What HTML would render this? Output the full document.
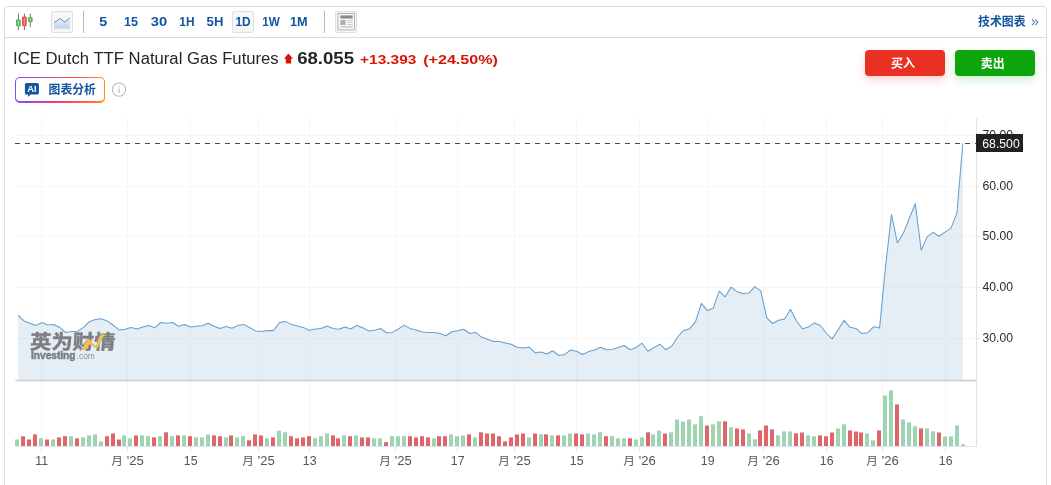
<!DOCTYPE html>
<html><head><meta charset="utf-8"><title>ICE Dutch TTF Natural Gas Futures</title>
<style>
html,body{margin:0;padding:0;background:#fff;}
body{width:1051px;height:485px;overflow:hidden;position:relative;font-family:"Liberation Sans",sans-serif;}
.frame{position:absolute;left:4px;top:6px;width:1041px;height:520px;border:1px solid #dbdbdc;border-radius:4px;box-sizing:content-box;}
.tbline{position:absolute;left:5px;top:37px;width:1041px;height:1px;background:#dbdbdc;}
.tf{position:absolute;top:11px;height:21px;width:28px;line-height:22px;text-align:center;font-size:12px;font-weight:bold;color:#1256a0;letter-spacing:0.2px;transform:scaleX(1.08);}
.btnbox{position:absolute;top:11px;height:20px;border:1px solid #dedfe1;background:#f7f7f8;border-radius:2px;}
.sep{position:absolute;top:11px;width:1px;height:22px;background:#b9b9ba;}
.title{position:absolute;left:14px;top:49px;font-size:16px;line-height:19px;color:#232526;white-space:nowrap;letter-spacing:0.3px;}
.px{position:absolute;left:297.2px;top:48.6px;font-size:16px;line-height:19px;font-weight:bold;color:#232526;white-space:nowrap;letter-spacing:0.4px;transform:scaleX(1.115);transform-origin:0 50%;}
.chg{position:absolute;top:49.5px;font-size:13.5px;line-height:19px;font-weight:bold;color:#d91400;white-space:nowrap;transform:scaleX(1.105);transform-origin:0 50%;}
.btn{position:absolute;top:50px;width:80px;height:26px;border-radius:4px;}
.buy{left:865px;background:#e83123;box-shadow:0 4px 9px rgba(232,49,35,0.22);}
.sell{left:955px;background:#0ea40b;box-shadow:0 4px 9px rgba(14,164,11,0.20);}
.aibtn{position:absolute;left:15px;top:77px;width:90px;height:25.6px;border-radius:5px;background:linear-gradient(90deg,#7a4cff 0%,#ff3d6e 55%,#ff8a1a 100%);}
.aibtn i{position:absolute;left:1.3px;top:1.3px;right:1.3px;bottom:1.3px;background:#fff;border-radius:3.8px;}
svg{position:absolute;left:0;top:0;}
svg text{font-family:"Liberation Sans","Noto Sans CJK SC",sans-serif;}
</style></head>
<body>
<div id="root" style="position:absolute;left:0;top:0;width:1051px;height:485px;will-change:transform;">
<div class="frame"></div>
<div class="tbline"></div>

<div class="btnbox" style="left:51px;width:20px;"></div>
<div class="sep" style="left:83px;"></div>
<div class="btnbox" style="left:232px;width:20px;"></div>
<div class="sep" style="left:324px;"></div>
<div class="btnbox" style="left:335px;width:20px;"></div>


<div class="btn buy"></div>
<div class="btn sell"></div>
<div class="aibtn"><i></i></div>

<svg width="1051" height="485" viewBox="0 0 1051 485">
<defs>
<linearGradient id="lg" x1="0" y1="0" x2="0" y2="1"><stop offset="0" stop-color="#eef2fb"/><stop offset="1" stop-color="#bfd0ec"/></linearGradient>
<linearGradient id="gg" x1="0" y1="0" x2="1" y2="0"><stop offset="0" stop-color="#2e9e2e"/><stop offset="0.5" stop-color="#a6e0a6"/><stop offset="1" stop-color="#2e9e2e"/></linearGradient>
<linearGradient id="rg" x1="0" y1="0" x2="1" y2="0"><stop offset="0" stop-color="#d62a2a"/><stop offset="0.5" stop-color="#ff8f8f"/><stop offset="1" stop-color="#d62a2a"/></linearGradient>
</defs>
<!-- header text -->
<text x="99.20" y="26.16" font-size="12" font-weight="bold" fill="#1256a0" textLength="8.0" lengthAdjust="spacingAndGlyphs">5</text>
<text x="124.00" y="26.16" font-size="12" font-weight="bold" fill="#1256a0" textLength="14.0" lengthAdjust="spacingAndGlyphs">15</text>
<text x="150.80" y="26.16" font-size="12" font-weight="bold" fill="#1256a0" textLength="16.4" lengthAdjust="spacingAndGlyphs">30</text>
<text x="179.30" y="26.16" font-size="12" font-weight="bold" fill="#1256a0" textLength="15.2" lengthAdjust="spacingAndGlyphs">1H</text>
<text x="206.60" y="26.16" font-size="12" font-weight="bold" fill="#1256a0" textLength="16.8" lengthAdjust="spacingAndGlyphs">5H</text>
<text x="235.40" y="26.16" font-size="12" font-weight="bold" fill="#1256a0" textLength="15.2" lengthAdjust="spacingAndGlyphs">1D</text>
<text x="262.20" y="26.16" font-size="12" font-weight="bold" fill="#1256a0" textLength="17.6" lengthAdjust="spacingAndGlyphs">1W</text>
<text x="290.00" y="26.16" font-size="12" font-weight="bold" fill="#1256a0" textLength="17.6" lengthAdjust="spacingAndGlyphs">1M</text>
<text x="13.1" y="64.04" font-size="16" fill="#232526" textLength="265.6" lengthAdjust="spacingAndGlyphs">ICE Dutch TTF Natural Gas Futures</text>
<text x="297.19" y="63.64" font-size="16" font-weight="bold" fill="#232526" textLength="56.8" lengthAdjust="spacingAndGlyphs">68.055</text>
<text x="360.09" y="63.68" font-size="13.5" font-weight="bold" fill="#d91400" textLength="56.34" lengthAdjust="spacingAndGlyphs">+13.393</text>
<text x="423.19" y="63.68" font-size="13.5" font-weight="bold" fill="#d91400" textLength="74.73" lengthAdjust="spacingAndGlyphs">(+24.50%)</text>
<!-- candlestick icon -->
<g>
<line x1="18.4" y1="13.6" x2="18.4" y2="30" stroke="#444" stroke-width="0.75"/>
<rect x="16.5" y="19.8" width="3.8" height="6.1" rx="0.5" fill="url(#gg)" stroke="#2e9e2e" stroke-width="0.6"/>
<line x1="24.4" y1="13.6" x2="24.4" y2="30" stroke="#444" stroke-width="0.75"/>
<rect x="22.5" y="16.9" width="3.8" height="8.9" rx="0.5" fill="url(#rg)" stroke="#d62a2a" stroke-width="0.6"/>
<line x1="30.3" y1="13.6" x2="30.3" y2="26.9" stroke="#444" stroke-width="0.75"/>
<rect x="28.4" y="17.4" width="3.8" height="4.5" rx="0.5" fill="url(#gg)" stroke="#2e9e2e" stroke-width="0.6"/>
</g>
<!-- line icon -->
<path d="M54,22.6 L60.1,18.6 L64.7,22.1 L69.8,18 L69.8,28.7 L54,28.7 Z" fill="url(#lg)"/>
<polyline points="54,22.6 60.1,18.6 64.7,22.1 69.8,18" fill="none" stroke="#4d7fb8" stroke-width="0.9"/>
<!-- layout icon -->
<rect x="337.9" y="13.5" width="16.6" height="16.4" fill="#fafafa" stroke="#a8a8a8" stroke-width="0.9"/>
<rect x="340.3" y="15.4" width="12.4" height="3.2" fill="#8c8c8c"/>
<rect x="340.3" y="20" width="5.3" height="5" fill="#b0b0b0"/>
<rect x="347" y="20" width="5.7" height="0.9" fill="#c4c4c4"/>
<rect x="347" y="22.1" width="5.7" height="0.9" fill="#c4c4c4"/>
<rect x="347" y="24.2" width="5.7" height="0.9" fill="#c4c4c4"/>
<rect x="340.3" y="26.2" width="12.4" height="1.4" fill="#c4c4c4"/>
<!-- tech chart link -->
<text x="978" y="25.86" font-size="12" font-weight="bold" fill="#1256a0" textLength="47.6" lengthAdjust="spacingAndGlyphs">技术图表</text>
<path d="M1032,19.4 L1034.6,22.3 L1032,25.2 M1035.2,19.4 L1037.8,22.3 L1035.2,25.2" fill="none" stroke="#4f7fb8" stroke-width="1.05"/>
<!-- up arrow -->
<path d="M288.45,53.5 L293,58.8 L291.1,58.8 L291.1,63.4 L285.8,63.4 L285.8,58.8 L283.9,58.8 Z" fill="#d91400"/>
<!-- AI icon -->
<path d="M26.6,82.9 H37.2 Q38.9,82.9 38.9,84.6 V92.9 Q38.9,94.6 37.2,94.6 H30.6 L28,97 V94.6 H26.6 Q24.9,94.6 24.9,92.9 V84.6 Q24.9,82.9 26.6,82.9 Z" fill="#1256a0"/>
<text x="27.2" y="92" font-size="8.6" font-weight="bold" fill="#fff" textLength="9.4" lengthAdjust="spacingAndGlyphs">AI</text>
<text x="48.6" y="93.86" font-size="12" font-weight="bold" fill="#1256a0" textLength="47.3" lengthAdjust="spacingAndGlyphs">图表分析</text>
<!-- info icon -->
<circle cx="119" cy="89.6" r="6.6" fill="#fff" stroke="#b7babe" stroke-width="1.1"/>
<rect x="118.45" y="88.4" width="1.1" height="4.6" fill="#b0b3b7"/>
<rect x="118.45" y="86" width="1.1" height="1.2" fill="#b0b3b7"/>
<!-- buy / sell text -->
<text x="891" y="68.16" font-size="12" font-weight="bold" fill="#fff" textLength="24" lengthAdjust="spacingAndGlyphs">买入</text>
<text x="980.8" y="68.16" font-size="12" font-weight="bold" fill="#fff" textLength="24" lengthAdjust="spacingAndGlyphs">卖出</text>
<line x1="41.5" y1="118.0" x2="41.5" y2="446.0" stroke="#f6f6f7" stroke-width="1"/>
<line x1="127.5" y1="118.0" x2="127.5" y2="446.0" stroke="#f6f6f7" stroke-width="1"/>
<line x1="190.5" y1="118.0" x2="190.5" y2="446.0" stroke="#f6f6f7" stroke-width="1"/>
<line x1="258.5" y1="118.0" x2="258.5" y2="446.0" stroke="#f6f6f7" stroke-width="1"/>
<line x1="309.5" y1="118.0" x2="309.5" y2="446.0" stroke="#f6f6f7" stroke-width="1"/>
<line x1="395.5" y1="118.0" x2="395.5" y2="446.0" stroke="#f6f6f7" stroke-width="1"/>
<line x1="457.5" y1="118.0" x2="457.5" y2="446.0" stroke="#f6f6f7" stroke-width="1"/>
<line x1="514.5" y1="118.0" x2="514.5" y2="446.0" stroke="#f6f6f7" stroke-width="1"/>
<line x1="576.5" y1="118.0" x2="576.5" y2="446.0" stroke="#f6f6f7" stroke-width="1"/>
<line x1="639.5" y1="118.0" x2="639.5" y2="446.0" stroke="#f6f6f7" stroke-width="1"/>
<line x1="707.5" y1="118.0" x2="707.5" y2="446.0" stroke="#f6f6f7" stroke-width="1"/>
<line x1="763.5" y1="118.0" x2="763.5" y2="446.0" stroke="#f6f6f7" stroke-width="1"/>
<line x1="826.5" y1="118.0" x2="826.5" y2="446.0" stroke="#f6f6f7" stroke-width="1"/>
<line x1="882.5" y1="118.0" x2="882.5" y2="446.0" stroke="#f6f6f7" stroke-width="1"/>
<line x1="945.5" y1="118.0" x2="945.5" y2="446.0" stroke="#f6f6f7" stroke-width="1"/>
<line x1="15.5" y1="135.5" x2="976.5" y2="135.5" stroke="#f6f6f7" stroke-width="1"/>
<line x1="15.5" y1="186.5" x2="976.5" y2="186.5" stroke="#f6f6f7" stroke-width="1"/>
<line x1="15.5" y1="236.5" x2="976.5" y2="236.5" stroke="#f6f6f7" stroke-width="1"/>
<line x1="15.5" y1="287.5" x2="976.5" y2="287.5" stroke="#f6f6f7" stroke-width="1"/>
<line x1="15.5" y1="338.5" x2="976.5" y2="338.5" stroke="#f6f6f7" stroke-width="1"/>
<path d="M18.1,380.5 L18.1,315.5 L24.0,320.9 L30.0,323.3 L35.9,325.4 L41.9,322.5 L47.8,324.9 L53.7,324.6 L59.7,327.4 L65.6,332.5 L71.6,331.4 L77.5,331.2 L83.5,327.4 L89.4,321.7 L95.3,319.6 L101.3,318.8 L107.2,320.9 L113.2,325.2 L119.1,329.9 L125.0,329.3 L131.0,327.4 L136.9,329.0 L142.9,327.0 L148.8,325.4 L154.8,327.8 L160.7,322.5 L166.6,323.3 L172.6,322.5 L178.5,326.2 L184.5,324.6 L190.4,327.0 L196.3,326.2 L202.3,325.7 L208.2,323.3 L214.2,326.2 L220.1,328.5 L226.1,326.5 L232.0,328.3 L237.9,325.4 L243.9,324.4 L249.8,327.7 L255.8,330.9 L261.7,331.4 L267.6,330.6 L273.6,330.6 L279.5,322.5 L285.5,321.4 L291.4,324.4 L297.4,326.1 L303.3,327.4 L309.2,330.3 L315.2,329.0 L321.1,328.6 L327.1,326.1 L333.0,328.6 L338.9,329.3 L344.9,326.9 L350.8,329.0 L356.8,325.4 L362.7,327.8 L368.6,330.9 L374.6,330.3 L380.5,328.5 L386.5,332.7 L392.4,332.4 L398.4,329.0 L404.3,325.1 L410.2,328.6 L416.2,330.1 L422.1,331.9 L428.1,332.5 L434.0,332.4 L439.9,333.5 L445.9,335.8 L451.8,331.7 L457.8,330.7 L463.7,329.3 L469.7,333.5 L475.6,332.4 L481.5,337.1 L487.5,339.3 L493.4,341.4 L499.4,341.6 L505.3,343.0 L511.2,344.3 L517.2,347.2 L523.1,347.9 L529.1,347.2 L535.0,352.7 L541.0,351.9 L546.9,354.0 L552.8,350.8 L558.8,355.5 L564.7,354.4 L570.7,350.0 L576.6,351.3 L582.5,354.5 L588.5,351.6 L594.4,350.0 L600.4,347.2 L606.3,349.7 L612.2,349.5 L618.2,347.6 L624.1,345.5 L630.1,349.7 L636.0,347.6 L642.0,343.2 L647.9,351.3 L653.8,347.6 L659.8,344.2 L665.7,349.7 L671.7,346.2 L677.6,337.0 L683.5,330.5 L689.5,328.9 L695.4,321.9 L701.4,303.3 L707.3,310.6 L713.3,308.2 L719.2,291.2 L725.1,296.8 L731.1,287.1 L737.0,291.7 L743.0,293.6 L748.9,293.1 L754.8,286.6 L760.8,290.9 L766.7,317.9 L772.7,323.5 L778.6,320.3 L784.6,319.0 L790.5,309.3 L796.4,320.8 L802.4,328.7 L808.3,327.1 L814.3,322.9 L820.2,325.5 L826.1,333.0 L832.1,338.9 L838.0,330.0 L844.0,320.3 L849.9,327.2 L855.9,328.4 L861.8,333.6 L867.7,332.7 L873.7,326.8 L879.6,327.9 L885.6,266.0 L891.5,214.6 L897.4,243.0 L903.4,233.1 L909.3,218.3 L915.3,203.7 L921.2,250.1 L927.1,236.9 L933.1,232.3 L939.0,236.2 L945.0,232.1 L950.9,228.4 L956.9,213.1 L962.8,143.5 L962.8,380.5 Z" fill="#e6eef5"/>
<clipPath id="ac"><path d="M18.1,380.5 L18.1,315.5 L24.0,320.9 L30.0,323.3 L35.9,325.4 L41.9,322.5 L47.8,324.9 L53.7,324.6 L59.7,327.4 L65.6,332.5 L71.6,331.4 L77.5,331.2 L83.5,327.4 L89.4,321.7 L95.3,319.6 L101.3,318.8 L107.2,320.9 L113.2,325.2 L119.1,329.9 L125.0,329.3 L131.0,327.4 L136.9,329.0 L142.9,327.0 L148.8,325.4 L154.8,327.8 L160.7,322.5 L166.6,323.3 L172.6,322.5 L178.5,326.2 L184.5,324.6 L190.4,327.0 L196.3,326.2 L202.3,325.7 L208.2,323.3 L214.2,326.2 L220.1,328.5 L226.1,326.5 L232.0,328.3 L237.9,325.4 L243.9,324.4 L249.8,327.7 L255.8,330.9 L261.7,331.4 L267.6,330.6 L273.6,330.6 L279.5,322.5 L285.5,321.4 L291.4,324.4 L297.4,326.1 L303.3,327.4 L309.2,330.3 L315.2,329.0 L321.1,328.6 L327.1,326.1 L333.0,328.6 L338.9,329.3 L344.9,326.9 L350.8,329.0 L356.8,325.4 L362.7,327.8 L368.6,330.9 L374.6,330.3 L380.5,328.5 L386.5,332.7 L392.4,332.4 L398.4,329.0 L404.3,325.1 L410.2,328.6 L416.2,330.1 L422.1,331.9 L428.1,332.5 L434.0,332.4 L439.9,333.5 L445.9,335.8 L451.8,331.7 L457.8,330.7 L463.7,329.3 L469.7,333.5 L475.6,332.4 L481.5,337.1 L487.5,339.3 L493.4,341.4 L499.4,341.6 L505.3,343.0 L511.2,344.3 L517.2,347.2 L523.1,347.9 L529.1,347.2 L535.0,352.7 L541.0,351.9 L546.9,354.0 L552.8,350.8 L558.8,355.5 L564.7,354.4 L570.7,350.0 L576.6,351.3 L582.5,354.5 L588.5,351.6 L594.4,350.0 L600.4,347.2 L606.3,349.7 L612.2,349.5 L618.2,347.6 L624.1,345.5 L630.1,349.7 L636.0,347.6 L642.0,343.2 L647.9,351.3 L653.8,347.6 L659.8,344.2 L665.7,349.7 L671.7,346.2 L677.6,337.0 L683.5,330.5 L689.5,328.9 L695.4,321.9 L701.4,303.3 L707.3,310.6 L713.3,308.2 L719.2,291.2 L725.1,296.8 L731.1,287.1 L737.0,291.7 L743.0,293.6 L748.9,293.1 L754.8,286.6 L760.8,290.9 L766.7,317.9 L772.7,323.5 L778.6,320.3 L784.6,319.0 L790.5,309.3 L796.4,320.8 L802.4,328.7 L808.3,327.1 L814.3,322.9 L820.2,325.5 L826.1,333.0 L832.1,338.9 L838.0,330.0 L844.0,320.3 L849.9,327.2 L855.9,328.4 L861.8,333.6 L867.7,332.7 L873.7,326.8 L879.6,327.9 L885.6,266.0 L891.5,214.6 L897.4,243.0 L903.4,233.1 L909.3,218.3 L915.3,203.7 L921.2,250.1 L927.1,236.9 L933.1,232.3 L939.0,236.2 L945.0,232.1 L950.9,228.4 L956.9,213.1 L962.8,143.5 L962.8,380.5 Z"/></clipPath><g clip-path="url(#ac)">
<line x1="41.5" y1="118.0" x2="41.5" y2="380.5" stroke="#e0e8ef" stroke-width="1"/>
<line x1="127.5" y1="118.0" x2="127.5" y2="380.5" stroke="#e0e8ef" stroke-width="1"/>
<line x1="190.5" y1="118.0" x2="190.5" y2="380.5" stroke="#e0e8ef" stroke-width="1"/>
<line x1="258.5" y1="118.0" x2="258.5" y2="380.5" stroke="#e0e8ef" stroke-width="1"/>
<line x1="309.5" y1="118.0" x2="309.5" y2="380.5" stroke="#e0e8ef" stroke-width="1"/>
<line x1="395.5" y1="118.0" x2="395.5" y2="380.5" stroke="#e0e8ef" stroke-width="1"/>
<line x1="457.5" y1="118.0" x2="457.5" y2="380.5" stroke="#e0e8ef" stroke-width="1"/>
<line x1="514.5" y1="118.0" x2="514.5" y2="380.5" stroke="#e0e8ef" stroke-width="1"/>
<line x1="576.5" y1="118.0" x2="576.5" y2="380.5" stroke="#e0e8ef" stroke-width="1"/>
<line x1="639.5" y1="118.0" x2="639.5" y2="380.5" stroke="#e0e8ef" stroke-width="1"/>
<line x1="707.5" y1="118.0" x2="707.5" y2="380.5" stroke="#e0e8ef" stroke-width="1"/>
<line x1="763.5" y1="118.0" x2="763.5" y2="380.5" stroke="#e0e8ef" stroke-width="1"/>
<line x1="826.5" y1="118.0" x2="826.5" y2="380.5" stroke="#e0e8ef" stroke-width="1"/>
<line x1="882.5" y1="118.0" x2="882.5" y2="380.5" stroke="#e0e8ef" stroke-width="1"/>
<line x1="945.5" y1="118.0" x2="945.5" y2="380.5" stroke="#e0e8ef" stroke-width="1"/>
<line x1="15.5" y1="135.5" x2="962.8" y2="135.5" stroke="#e0e8ef" stroke-width="1"/>
<line x1="15.5" y1="186.5" x2="962.8" y2="186.5" stroke="#e0e8ef" stroke-width="1"/>
<line x1="15.5" y1="236.5" x2="962.8" y2="236.5" stroke="#e0e8ef" stroke-width="1"/>
<line x1="15.5" y1="287.5" x2="962.8" y2="287.5" stroke="#e0e8ef" stroke-width="1"/>
<line x1="15.5" y1="338.5" x2="962.8" y2="338.5" stroke="#e0e8ef" stroke-width="1"/>
</g>
<polyline points="18.1,315.5 24.0,320.9 30.0,323.3 35.9,325.4 41.9,322.5 47.8,324.9 53.7,324.6 59.7,327.4 65.6,332.5 71.6,331.4 77.5,331.2 83.5,327.4 89.4,321.7 95.3,319.6 101.3,318.8 107.2,320.9 113.2,325.2 119.1,329.9 125.0,329.3 131.0,327.4 136.9,329.0 142.9,327.0 148.8,325.4 154.8,327.8 160.7,322.5 166.6,323.3 172.6,322.5 178.5,326.2 184.5,324.6 190.4,327.0 196.3,326.2 202.3,325.7 208.2,323.3 214.2,326.2 220.1,328.5 226.1,326.5 232.0,328.3 237.9,325.4 243.9,324.4 249.8,327.7 255.8,330.9 261.7,331.4 267.6,330.6 273.6,330.6 279.5,322.5 285.5,321.4 291.4,324.4 297.4,326.1 303.3,327.4 309.2,330.3 315.2,329.0 321.1,328.6 327.1,326.1 333.0,328.6 338.9,329.3 344.9,326.9 350.8,329.0 356.8,325.4 362.7,327.8 368.6,330.9 374.6,330.3 380.5,328.5 386.5,332.7 392.4,332.4 398.4,329.0 404.3,325.1 410.2,328.6 416.2,330.1 422.1,331.9 428.1,332.5 434.0,332.4 439.9,333.5 445.9,335.8 451.8,331.7 457.8,330.7 463.7,329.3 469.7,333.5 475.6,332.4 481.5,337.1 487.5,339.3 493.4,341.4 499.4,341.6 505.3,343.0 511.2,344.3 517.2,347.2 523.1,347.9 529.1,347.2 535.0,352.7 541.0,351.9 546.9,354.0 552.8,350.8 558.8,355.5 564.7,354.4 570.7,350.0 576.6,351.3 582.5,354.5 588.5,351.6 594.4,350.0 600.4,347.2 606.3,349.7 612.2,349.5 618.2,347.6 624.1,345.5 630.1,349.7 636.0,347.6 642.0,343.2 647.9,351.3 653.8,347.6 659.8,344.2 665.7,349.7 671.7,346.2 677.6,337.0 683.5,330.5 689.5,328.9 695.4,321.9 701.4,303.3 707.3,310.6 713.3,308.2 719.2,291.2 725.1,296.8 731.1,287.1 737.0,291.7 743.0,293.6 748.9,293.1 754.8,286.6 760.8,290.9 766.7,317.9 772.7,323.5 778.6,320.3 784.6,319.0 790.5,309.3 796.4,320.8 802.4,328.7 808.3,327.1 814.3,322.9 820.2,325.5 826.1,333.0 832.1,338.9 838.0,330.0 844.0,320.3 849.9,327.2 855.9,328.4 861.8,333.6 867.7,332.7 873.7,326.8 879.6,327.9 885.6,266.0 891.5,214.6 897.4,243.0 903.4,233.1 909.3,218.3 915.3,203.7 921.2,250.1 927.1,236.9 933.1,232.3 939.0,236.2 945.0,232.1 950.9,228.4 956.9,213.1 962.8,143.5" fill="none" stroke="#63a0d3" stroke-width="1.05" stroke-linejoin="round"/>
<line x1="15.5" y1="380.5" x2="976.5" y2="380.5" stroke="#c8cbd0" stroke-width="1.3"/>
<line x1="15.5" y1="446.5" x2="976.5" y2="446.5" stroke="#dfe2ec" stroke-width="1"/>
<line x1="976.5" y1="118.0" x2="976.5" y2="446.5" stroke="#dfe2ec" stroke-width="1"/>
<rect x="15" y="439.5" width="4" height="6.5" fill="#9fd4b2"/>
<rect x="21" y="436.2" width="4" height="9.8" fill="#e0656a"/>
<rect x="27" y="439.5" width="4" height="6.5" fill="#e0656a"/>
<rect x="33" y="434.4" width="4" height="11.6" fill="#e0656a"/>
<rect x="39" y="438.3" width="4" height="7.7" fill="#9fd4b2"/>
<rect x="45" y="439.5" width="4" height="6.5" fill="#e0656a"/>
<rect x="51" y="439.5" width="4" height="6.5" fill="#9fd4b2"/>
<rect x="57" y="437.4" width="4" height="8.6" fill="#e0656a"/>
<rect x="63" y="436.2" width="4" height="9.8" fill="#e0656a"/>
<rect x="69" y="436.2" width="4" height="9.8" fill="#9fd4b2"/>
<rect x="75" y="438.3" width="4" height="7.7" fill="#e0656a"/>
<rect x="81" y="437.4" width="4" height="8.6" fill="#9fd4b2"/>
<rect x="87" y="435.4" width="4" height="10.6" fill="#9fd4b2"/>
<rect x="93" y="434.4" width="4" height="11.6" fill="#9fd4b2"/>
<rect x="99" y="441.4" width="4" height="4.6" fill="#9fd4b2"/>
<rect x="105" y="436.2" width="4" height="9.8" fill="#e0656a"/>
<rect x="111" y="433.5" width="4" height="12.5" fill="#e0656a"/>
<rect x="117" y="439.5" width="4" height="6.5" fill="#e0656a"/>
<rect x="122" y="435.4" width="4" height="10.6" fill="#9fd4b2"/>
<rect x="128" y="438.3" width="4" height="7.7" fill="#9fd4b2"/>
<rect x="134" y="435.4" width="4" height="10.6" fill="#e0656a"/>
<rect x="140" y="435.4" width="4" height="10.6" fill="#9fd4b2"/>
<rect x="146" y="436.2" width="4" height="9.8" fill="#9fd4b2"/>
<rect x="152" y="437.4" width="4" height="8.6" fill="#e0656a"/>
<rect x="158" y="436.2" width="4" height="9.8" fill="#9fd4b2"/>
<rect x="164" y="432.3" width="4" height="13.7" fill="#e0656a"/>
<rect x="170" y="436.2" width="4" height="9.8" fill="#9fd4b2"/>
<rect x="176" y="435.4" width="4" height="10.6" fill="#e0656a"/>
<rect x="182" y="435.4" width="4" height="10.6" fill="#9fd4b2"/>
<rect x="188" y="436.2" width="4" height="9.8" fill="#e0656a"/>
<rect x="194" y="437.4" width="4" height="8.6" fill="#9fd4b2"/>
<rect x="200" y="437.4" width="4" height="8.6" fill="#9fd4b2"/>
<rect x="206" y="434.4" width="4" height="11.6" fill="#9fd4b2"/>
<rect x="212" y="435.4" width="4" height="10.6" fill="#e0656a"/>
<rect x="218" y="436.2" width="4" height="9.8" fill="#e0656a"/>
<rect x="224" y="437.4" width="4" height="8.6" fill="#9fd4b2"/>
<rect x="229" y="435.4" width="4" height="10.6" fill="#e0656a"/>
<rect x="235" y="437.4" width="4" height="8.6" fill="#9fd4b2"/>
<rect x="241" y="436.2" width="4" height="9.8" fill="#9fd4b2"/>
<rect x="247" y="440.3" width="4" height="5.7" fill="#e0656a"/>
<rect x="253" y="434.4" width="4" height="11.6" fill="#e0656a"/>
<rect x="259" y="435.4" width="4" height="10.6" fill="#e0656a"/>
<rect x="265" y="438.3" width="4" height="7.7" fill="#9fd4b2"/>
<rect x="271" y="437.4" width="4" height="8.6" fill="#e0656a"/>
<rect x="277" y="430.6" width="4" height="15.4" fill="#9fd4b2"/>
<rect x="283" y="432.3" width="4" height="13.7" fill="#9fd4b2"/>
<rect x="289" y="436.2" width="4" height="9.8" fill="#e0656a"/>
<rect x="295" y="438.3" width="4" height="7.7" fill="#e0656a"/>
<rect x="301" y="437.4" width="4" height="8.6" fill="#e0656a"/>
<rect x="307" y="436.2" width="4" height="9.8" fill="#e0656a"/>
<rect x="313" y="438.3" width="4" height="7.7" fill="#9fd4b2"/>
<rect x="319" y="436.2" width="4" height="9.8" fill="#9fd4b2"/>
<rect x="325" y="433.5" width="4" height="12.5" fill="#9fd4b2"/>
<rect x="331" y="435.4" width="4" height="10.6" fill="#e0656a"/>
<rect x="336" y="438.3" width="4" height="7.7" fill="#e0656a"/>
<rect x="342" y="435.4" width="4" height="10.6" fill="#9fd4b2"/>
<rect x="348" y="436.2" width="4" height="9.8" fill="#e0656a"/>
<rect x="354" y="435.4" width="4" height="10.6" fill="#9fd4b2"/>
<rect x="360" y="437.4" width="4" height="8.6" fill="#e0656a"/>
<rect x="366" y="437.4" width="4" height="8.6" fill="#e0656a"/>
<rect x="372" y="438.3" width="4" height="7.7" fill="#9fd4b2"/>
<rect x="378" y="438.3" width="4" height="7.7" fill="#9fd4b2"/>
<rect x="384" y="442.2" width="4" height="3.8" fill="#e0656a"/>
<rect x="390" y="436.2" width="4" height="9.8" fill="#9fd4b2"/>
<rect x="396" y="436.2" width="4" height="9.8" fill="#9fd4b2"/>
<rect x="402" y="436.2" width="4" height="9.8" fill="#9fd4b2"/>
<rect x="408" y="436.2" width="4" height="9.8" fill="#e0656a"/>
<rect x="414" y="437.4" width="4" height="8.6" fill="#e0656a"/>
<rect x="420" y="436.2" width="4" height="9.8" fill="#e0656a"/>
<rect x="426" y="437.4" width="4" height="8.6" fill="#e0656a"/>
<rect x="432" y="438.3" width="4" height="7.7" fill="#9fd4b2"/>
<rect x="437" y="436.2" width="4" height="9.8" fill="#e0656a"/>
<rect x="443" y="436.2" width="4" height="9.8" fill="#e0656a"/>
<rect x="449" y="434.4" width="4" height="11.6" fill="#9fd4b2"/>
<rect x="455" y="436.2" width="4" height="9.8" fill="#9fd4b2"/>
<rect x="461" y="435.4" width="4" height="10.6" fill="#9fd4b2"/>
<rect x="467" y="434.4" width="4" height="11.6" fill="#e0656a"/>
<rect x="473" y="437.4" width="4" height="8.6" fill="#9fd4b2"/>
<rect x="479" y="432.3" width="4" height="13.7" fill="#e0656a"/>
<rect x="485" y="433.5" width="4" height="12.5" fill="#e0656a"/>
<rect x="491" y="433.5" width="4" height="12.5" fill="#e0656a"/>
<rect x="497" y="436.2" width="4" height="9.8" fill="#e0656a"/>
<rect x="503" y="441.4" width="4" height="4.6" fill="#e0656a"/>
<rect x="509" y="437.4" width="4" height="8.6" fill="#e0656a"/>
<rect x="515" y="434.4" width="4" height="11.6" fill="#e0656a"/>
<rect x="521" y="433.5" width="4" height="12.5" fill="#e0656a"/>
<rect x="527" y="437.4" width="4" height="8.6" fill="#9fd4b2"/>
<rect x="533" y="433.5" width="4" height="12.5" fill="#e0656a"/>
<rect x="539" y="434.4" width="4" height="11.6" fill="#9fd4b2"/>
<rect x="544" y="434.4" width="4" height="11.6" fill="#e0656a"/>
<rect x="550" y="435.4" width="4" height="10.6" fill="#9fd4b2"/>
<rect x="556" y="435.4" width="4" height="10.6" fill="#e0656a"/>
<rect x="562" y="435.4" width="4" height="10.6" fill="#9fd4b2"/>
<rect x="568" y="433.5" width="4" height="12.5" fill="#9fd4b2"/>
<rect x="574" y="433.5" width="4" height="12.5" fill="#e0656a"/>
<rect x="580" y="434.4" width="4" height="11.6" fill="#e0656a"/>
<rect x="586" y="433.5" width="4" height="12.5" fill="#9fd4b2"/>
<rect x="592" y="434.4" width="4" height="11.6" fill="#9fd4b2"/>
<rect x="598" y="432.3" width="4" height="13.7" fill="#9fd4b2"/>
<rect x="604" y="436.2" width="4" height="9.8" fill="#e0656a"/>
<rect x="610" y="436.2" width="4" height="9.8" fill="#9fd4b2"/>
<rect x="616" y="438.3" width="4" height="7.7" fill="#9fd4b2"/>
<rect x="622" y="438.3" width="4" height="7.7" fill="#9fd4b2"/>
<rect x="628" y="438.3" width="4" height="7.7" fill="#e0656a"/>
<rect x="634" y="439.5" width="4" height="6.5" fill="#9fd4b2"/>
<rect x="640" y="437.4" width="4" height="8.6" fill="#9fd4b2"/>
<rect x="646" y="432.3" width="4" height="13.7" fill="#e0656a"/>
<rect x="651" y="434.4" width="4" height="11.6" fill="#9fd4b2"/>
<rect x="657" y="430.6" width="4" height="15.4" fill="#9fd4b2"/>
<rect x="663" y="433.5" width="4" height="12.5" fill="#e0656a"/>
<rect x="669" y="432.3" width="4" height="13.7" fill="#9fd4b2"/>
<rect x="675" y="419.5" width="4" height="26.5" fill="#9fd4b2"/>
<rect x="681" y="421.5" width="4" height="24.5" fill="#9fd4b2"/>
<rect x="687" y="419.5" width="4" height="26.5" fill="#9fd4b2"/>
<rect x="693" y="424.4" width="4" height="21.6" fill="#9fd4b2"/>
<rect x="699" y="416.2" width="4" height="29.8" fill="#9fd4b2"/>
<rect x="705" y="425.5" width="4" height="20.5" fill="#e0656a"/>
<rect x="711" y="424.3" width="4" height="21.7" fill="#9fd4b2"/>
<rect x="717" y="421.3" width="4" height="24.7" fill="#9fd4b2"/>
<rect x="723" y="421.3" width="4" height="24.7" fill="#e0656a"/>
<rect x="729" y="427.3" width="4" height="18.7" fill="#9fd4b2"/>
<rect x="735" y="428.5" width="4" height="17.5" fill="#e0656a"/>
<rect x="741" y="429.4" width="4" height="16.6" fill="#e0656a"/>
<rect x="747" y="433.3" width="4" height="12.7" fill="#9fd4b2"/>
<rect x="753" y="439.3" width="4" height="6.7" fill="#9fd4b2"/>
<rect x="758" y="430.4" width="4" height="15.6" fill="#e0656a"/>
<rect x="764" y="425.5" width="4" height="20.5" fill="#e0656a"/>
<rect x="770" y="429.4" width="4" height="16.6" fill="#e0656a"/>
<rect x="776" y="435.4" width="4" height="10.6" fill="#9fd4b2"/>
<rect x="782" y="431.4" width="4" height="14.6" fill="#9fd4b2"/>
<rect x="788" y="431.4" width="4" height="14.6" fill="#9fd4b2"/>
<rect x="794" y="433.3" width="4" height="12.7" fill="#e0656a"/>
<rect x="800" y="432.5" width="4" height="13.5" fill="#e0656a"/>
<rect x="806" y="435.4" width="4" height="10.6" fill="#9fd4b2"/>
<rect x="812" y="436.2" width="4" height="9.8" fill="#9fd4b2"/>
<rect x="818" y="435.4" width="4" height="10.6" fill="#e0656a"/>
<rect x="824" y="436.2" width="4" height="9.8" fill="#e0656a"/>
<rect x="830" y="432.5" width="4" height="13.5" fill="#e0656a"/>
<rect x="836" y="428.5" width="4" height="17.5" fill="#9fd4b2"/>
<rect x="842" y="424.3" width="4" height="21.7" fill="#9fd4b2"/>
<rect x="848" y="430.4" width="4" height="15.6" fill="#e0656a"/>
<rect x="854" y="431.5" width="4" height="14.5" fill="#e0656a"/>
<rect x="859" y="432.5" width="4" height="13.5" fill="#e0656a"/>
<rect x="865" y="433.4" width="4" height="12.6" fill="#9fd4b2"/>
<rect x="871" y="440.4" width="4" height="5.6" fill="#9fd4b2"/>
<rect x="877" y="430.4" width="4" height="15.6" fill="#e0656a"/>
<rect x="883" y="395.5" width="4" height="50.5" fill="#9fd4b2"/>
<rect x="889" y="390.3" width="4" height="55.7" fill="#9fd4b2"/>
<rect x="895" y="404.4" width="4" height="41.6" fill="#e0656a"/>
<rect x="901" y="419.5" width="4" height="26.5" fill="#9fd4b2"/>
<rect x="907" y="422.4" width="4" height="23.6" fill="#9fd4b2"/>
<rect x="913" y="426.3" width="4" height="19.7" fill="#9fd4b2"/>
<rect x="919" y="428.4" width="4" height="17.6" fill="#e0656a"/>
<rect x="925" y="428.4" width="4" height="17.6" fill="#9fd4b2"/>
<rect x="931" y="431.3" width="4" height="14.7" fill="#9fd4b2"/>
<rect x="937" y="432.5" width="4" height="13.5" fill="#e0656a"/>
<rect x="943" y="436.4" width="4" height="9.6" fill="#9fd4b2"/>
<rect x="949" y="436.4" width="4" height="9.6" fill="#9fd4b2"/>
<rect x="955" y="425.4" width="4" height="20.6" fill="#9fd4b2"/>
<rect x="961" y="444.3" width="4" height="1.7" fill="#9fd4b2"/>
<line x1="41.5" y1="446.0" x2="41.5" y2="451.5" stroke="#dfe2ec" stroke-width="1"/>
<line x1="127.5" y1="446.0" x2="127.5" y2="451.5" stroke="#dfe2ec" stroke-width="1"/>
<line x1="190.5" y1="446.0" x2="190.5" y2="451.5" stroke="#dfe2ec" stroke-width="1"/>
<line x1="258.5" y1="446.0" x2="258.5" y2="451.5" stroke="#dfe2ec" stroke-width="1"/>
<line x1="309.5" y1="446.0" x2="309.5" y2="451.5" stroke="#dfe2ec" stroke-width="1"/>
<line x1="395.5" y1="446.0" x2="395.5" y2="451.5" stroke="#dfe2ec" stroke-width="1"/>
<line x1="457.5" y1="446.0" x2="457.5" y2="451.5" stroke="#dfe2ec" stroke-width="1"/>
<line x1="514.5" y1="446.0" x2="514.5" y2="451.5" stroke="#dfe2ec" stroke-width="1"/>
<line x1="576.5" y1="446.0" x2="576.5" y2="451.5" stroke="#dfe2ec" stroke-width="1"/>
<line x1="639.5" y1="446.0" x2="639.5" y2="451.5" stroke="#dfe2ec" stroke-width="1"/>
<line x1="707.5" y1="446.0" x2="707.5" y2="451.5" stroke="#dfe2ec" stroke-width="1"/>
<line x1="763.5" y1="446.0" x2="763.5" y2="451.5" stroke="#dfe2ec" stroke-width="1"/>
<line x1="826.5" y1="446.0" x2="826.5" y2="451.5" stroke="#dfe2ec" stroke-width="1"/>
<line x1="882.5" y1="446.0" x2="882.5" y2="451.5" stroke="#dfe2ec" stroke-width="1"/>
<line x1="945.5" y1="446.0" x2="945.5" y2="451.5" stroke="#dfe2ec" stroke-width="1"/>
<line x1="976.5" y1="135.5" x2="979.5" y2="135.5" stroke="#dfe2ec" stroke-width="1"/>
<text x="982.5" y="138.9" font-size="12" fill="#2a2a2a" textLength="30.4" lengthAdjust="spacingAndGlyphs">70.00</text>
<line x1="976.5" y1="186.5" x2="979.5" y2="186.5" stroke="#dfe2ec" stroke-width="1"/>
<text x="982.5" y="189.9" font-size="12" fill="#2a2a2a" textLength="30.4" lengthAdjust="spacingAndGlyphs">60.00</text>
<line x1="976.5" y1="236.5" x2="979.5" y2="236.5" stroke="#dfe2ec" stroke-width="1"/>
<text x="982.5" y="239.9" font-size="12" fill="#2a2a2a" textLength="30.4" lengthAdjust="spacingAndGlyphs">50.00</text>
<line x1="976.5" y1="287.5" x2="979.5" y2="287.5" stroke="#dfe2ec" stroke-width="1"/>
<text x="982.5" y="290.9" font-size="12" fill="#2a2a2a" textLength="30.4" lengthAdjust="spacingAndGlyphs">40.00</text>
<line x1="976.5" y1="338.5" x2="979.5" y2="338.5" stroke="#dfe2ec" stroke-width="1"/>
<text x="982.5" y="341.9" font-size="12" fill="#2a2a2a" textLength="30.4" lengthAdjust="spacingAndGlyphs">30.00</text>
<text x="35.27" y="465.3" font-size="12" fill="#555" textLength="12.78" lengthAdjust="spacingAndGlyphs">11</text>
<text x="111.25" y="465.06" font-size="11.6" fill="#555">月</text>
<text x="126.75" y="465.3" font-size="12" fill="#555" textLength="17" lengthAdjust="spacingAndGlyphs">'25</text>
<text x="183.82" y="465.3" font-size="12" fill="#555" textLength="13.67" lengthAdjust="spacingAndGlyphs">15</text>
<text x="242.25" y="465.06" font-size="11.6" fill="#555">月</text>
<text x="257.75" y="465.3" font-size="12" fill="#555" textLength="17" lengthAdjust="spacingAndGlyphs">'25</text>
<text x="302.83" y="465.3" font-size="12" fill="#555" textLength="13.67" lengthAdjust="spacingAndGlyphs">13</text>
<text x="379.25" y="465.06" font-size="11.6" fill="#555">月</text>
<text x="394.75" y="465.3" font-size="12" fill="#555" textLength="17" lengthAdjust="spacingAndGlyphs">'25</text>
<text x="450.83" y="465.3" font-size="12" fill="#555" textLength="13.67" lengthAdjust="spacingAndGlyphs">17</text>
<text x="498.25" y="465.06" font-size="11.6" fill="#555">月</text>
<text x="513.75" y="465.3" font-size="12" fill="#555" textLength="17" lengthAdjust="spacingAndGlyphs">'25</text>
<text x="569.82" y="465.3" font-size="12" fill="#555" textLength="13.67" lengthAdjust="spacingAndGlyphs">15</text>
<text x="623.25" y="465.06" font-size="11.6" fill="#555">月</text>
<text x="638.75" y="465.3" font-size="12" fill="#555" textLength="17" lengthAdjust="spacingAndGlyphs">'26</text>
<text x="700.82" y="465.3" font-size="12" fill="#555" textLength="13.67" lengthAdjust="spacingAndGlyphs">19</text>
<text x="747.25" y="465.06" font-size="11.6" fill="#555">月</text>
<text x="762.75" y="465.3" font-size="12" fill="#555" textLength="17" lengthAdjust="spacingAndGlyphs">'26</text>
<text x="819.82" y="465.3" font-size="12" fill="#555" textLength="13.67" lengthAdjust="spacingAndGlyphs">16</text>
<text x="866.25" y="465.06" font-size="11.6" fill="#555">月</text>
<text x="881.75" y="465.3" font-size="12" fill="#555" textLength="17" lengthAdjust="spacingAndGlyphs">'26</text>
<text x="938.82" y="465.3" font-size="12" fill="#555" textLength="13.67" lengthAdjust="spacingAndGlyphs">16</text>
<line x1="15" y1="143.5" x2="976" y2="143.5" stroke="#484848" stroke-width="1" stroke-dasharray="5,5"/>
<rect x="976" y="134" width="47" height="18" fill="#222"/>
<text x="982.3" y="147.6" font-size="12" fill="#fff" textLength="37.4" lengthAdjust="spacingAndGlyphs">68.500</text>
<g transform="translate(30.6,331) skewX(-3) scale(1.09,1)" stroke="#7b7e82" stroke-width="0.44" stroke-linejoin="round"><text x="0" y="17.6" font-size="20" font-weight="bold" fill="#7b7e82" textLength="78.35" lengthAdjust="spacingAndGlyphs">英为财情</text></g>
<polygon points="81.7,349.8 87.9,337.9 96.2,346.3 99.0,336.4 105.7,332.2 97.1,349.0 89.5,344.2 86.2,349.8" fill="#f5bd55"/>
<text x="31" y="358.8" font-size="10" font-weight="bold" fill="#7b7e82" stroke="#7b7e82" stroke-width="0.5" textLength="44.5" lengthAdjust="spacingAndGlyphs">Investing</text>
<text x="76.6" y="358.8" font-size="9" fill="#8d9094" textLength="18.3" lengthAdjust="spacingAndGlyphs">.com</text>
</svg>
</div>
</body></html>
